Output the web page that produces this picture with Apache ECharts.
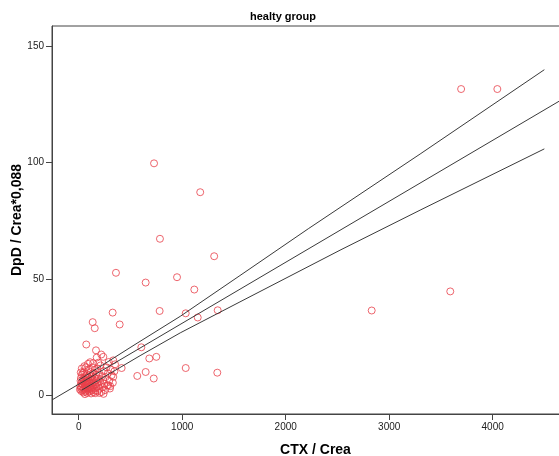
<!DOCTYPE html>
<html>
<head>
<meta charset="utf-8">
<script src="https://cdn.jsdelivr.net/npm/echarts@6/dist/echarts.min.js"></script>
<style>
  html, body { margin: 0; padding: 0; background: #fff; }
  #chart { width: 559px; height: 456px; }
</style>
</head>
<body>
<div id="chart"></div>
<script>
// scatter values: CTX / Crea (x) and DpD / Crea*0,088 (y)
const ctx = [
  3695, 4045, 728, 1174, 785, 1309, 360, 647, 950, 1117, 3590, 2831, 328, 782, 1034, 1150, 1343,
  135, 155, 396, 73, 167, 218, 238, 174, 605, 682, 750, 1034, 1339, 566, 647, 725, 415, 334, 305, 290, 351,
  12, 15, 18, 20, 22, 25, 28, 30, 32, 35, 38, 40, 42, 45, 46, 48, 50, 52, 55, 57, 60, 62, 65, 66, 68, 70,
  72, 75, 78, 80, 82, 84, 86, 88, 90, 92, 95, 96, 98, 100, 102, 105, 108, 110, 112, 115, 118, 120,
  122, 125, 128, 130, 132, 135, 138, 140, 143, 146, 150, 153, 156, 160, 163, 166, 170, 173, 176, 180,
  184, 188, 192, 196, 200, 205, 210, 215, 220, 225, 230, 236, 242, 248, 255,
  260, 268, 275, 282, 286, 295, 302, 310, 318, 330, 345, 334,
  30, 55, 20, 90, 110, 70, 140, 190, 60, 120, 160, 200, 240
];
const dpd = [
  131.5, 131.5, 99.6, 87.2, 67.2, 59.7, 52.6, 48.4, 50.7, 45.4, 44.6, 36.4, 35.5, 36.2, 35.2, 33.4, 36.5,
  31.4, 28.8, 30.4, 21.8, 19.3, 17.5, 16.5, 16.2, 20.6, 15.8, 16.5, 11.7, 9.7, 8.3, 10.0, 7.2, 11.7, 7.9, 3.9, 14.3, 13.3,
  2.5, 4.0, 6.2, 3.1, 7.5, 1.8, 5.0, 8.8, 3.6, 6.0, 2.2, 4.6, 9.5, 1.2, 7.0, 3.0, 5.5, 10.2, 2.6, 6.6, 4.1, 8.2, 1.5, 5.2, 3.4, 7.4,
  2.0, 6.0, 4.4, 9.0, 1.0, 3.0, 5.8, 7.8, 2.4, 4.8, 11.0, 6.5, 3.6, 1.6, 8.6, 5.2, 2.9, 7.0, 4.0, 10.0, 1.9, 6.2,
  3.3, 8.0, 5.0, 12.0, 2.4, 6.8, 4.2, 9.5, 1.3, 5.6, 3.0, 7.6, 10.8, 4.6, 2.0, 6.4, 8.8, 3.6, 5.4, 11.5,
  1.8, 7.2, 4.0, 9.6, 2.8, 6.0, 12.8, 4.8, 1.4, 8.2, 3.4, 6.6, 10.4, 5.0, 2.2,
  7.8, 12.0, 4.2, 9.4, 4.3, 6.2, 2.9, 11.0, 8.6, 5.4, 10.3, 15.0,
  11.5, 12.5, 9.8, 13.5, 14.2, 12.0, 13.8, 14.0, 0.5, 0.8, 0.9, 1.0, 0.6
];

// fit line and the two band lines, read at a few x positions
const fitX = [-258, 4700];
const fitY = [-2.0, 127.8];
const upperX = [0, 544, 981, 1558, 2218, 3299, 4499];
const upperY = [6.5, 21.8, 33.9, 51.4, 71.5, 103.6, 139.8];
const lowerX = [29, 593, 981, 1558, 2525, 3299, 4499];
const lowerY = [2.2, 17.0, 26.8, 40.1, 62.3, 79.5, 105.8];

const xTicks = [0, 1000, 2000, 3000, 4000];
const yTicks = [0, 50, 100, 150];

const pairs = (xs, ys) => xs.map((x, i) => [x, ys[i]]);

const chart = echarts.init(document.getElementById('chart'), null, { renderer: 'canvas' });

const lineStyle = { color: '#3a3a3a', width: 1 };
const plain = v => String(v);

const option = {
  backgroundColor: '#ffffff',
  animation: false,
  title: {
    text: 'healty group',
    left: 250, top: 11, padding: 0,
    textStyle: { fontFamily: 'Liberation Sans', fontSize: 11, fontWeight: 'bold', color: '#000' }
  },
  grid: {
    left: 52, top: 26, right: -20, bottom: 42,
    show: true, borderColor: '#444', borderWidth: 1,
    outerBoundsMode: 'none'
  },
  xAxis: {
    type: 'value', min: -258, max: 4834,
    name: 'CTX / Crea', nameLocation: 'middle', nameGap: 29, nameMoveOverlap: false,
    nameTextStyle: { fontFamily: 'Liberation Sans', fontSize: 14, fontWeight: 'bold', color: '#000' },
    axisLine: { show: true, onZero: false, lineStyle: { color: '#444' } },
    axisTick: { show: true, length: 6, customValues: xTicks, lineStyle: { color: '#444' } },
    axisLabel: { customValues: xTicks, formatter: plain, margin: 8, fontFamily: 'Liberation Sans', fontSize: 10, color: '#222' },
    splitLine: { show: false }
  },
  yAxis: {
    type: 'value', min: -8.04, max: 158.57,
    name: 'DpD / Crea*0,088', nameLocation: 'middle', nameGap: 28, nameMoveOverlap: false,
    nameTextStyle: { fontFamily: 'Liberation Sans', fontSize: 14, fontWeight: 'bold', color: '#000' },
    axisLine: { show: true, onZero: false, lineStyle: { color: '#444' } },
    axisTick: { show: true, length: 6, customValues: yTicks, lineStyle: { color: '#444' } },
    axisLabel: { customValues: yTicks, formatter: plain, margin: 8, fontFamily: 'Liberation Sans', fontSize: 10, color: '#222' },
    splitLine: { show: false }
  },
  series: [
    {
      type: 'scatter', data: pairs(ctx, dpd),
      symbol: 'circle', symbolSize: 7,
      itemStyle: { color: 'rgba(0,0,0,0)', borderColor: '#e8404a', borderWidth: 1 },
      z: 2
    },
    { type: 'line', data: pairs(fitX, fitY), showSymbol: false, lineStyle: lineStyle, z: 3 },
    { type: 'line', data: pairs(upperX, upperY), showSymbol: false, lineStyle: lineStyle, z: 3 },
    { type: 'line', data: pairs(lowerX, lowerY), showSymbol: false, lineStyle: lineStyle, z: 3 }
  ]
};

chart.setOption(option);
</script>
</body>
</html>
